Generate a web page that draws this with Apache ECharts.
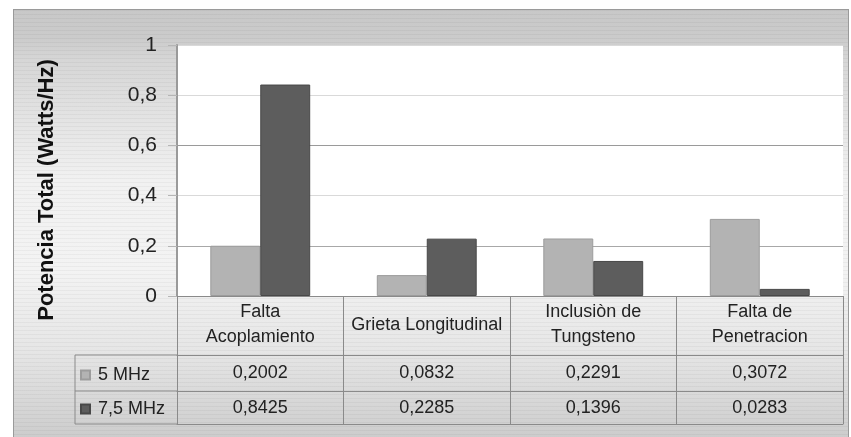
<!DOCTYPE html>
<html>
<head>
<meta charset="utf-8">
<script src="https://cdn.jsdelivr.net/npm/echarts@6/dist/echarts.min.js"></script>
<style>
  html, body { margin: 0; padding: 0; background: #fff; }
  #frame {
    position: absolute; left: 13px; top: 9px; width: 834px; height: 440px;
    border: 1px solid #9a9a9a;
    background:
      repeating-linear-gradient(to bottom, rgba(0,0,0,0.04) 0 1px, rgba(0,0,0,0) 1px 4px),
      linear-gradient(to bottom, #c8c8c8 0px, #cbcbcb 28px, #d6d6d6 50px, #f1f1f1 170px, #f3f3f3 260px, #e6e6e6 340px, #d2d2d2 410px, #c8c8c8 440px);
  }
  #chart { position: absolute; left: 0; top: 0; width: 851px; height: 437px; }
</style>
</head>
<body>
<div id="frame"></div>
<div id="chart"></div>
<script>
// datos
const categorias = ["Falta\nAcoplamiento", "Grieta Longitudinal", "Inclusiòn de\nTungsteno", "Falta de\nPenetracion"];
const serie5 = [0.2002, 0.0832, 0.2291, 0.3072];
const serie75 = [0.8425, 0.2285, 0.1396, 0.0283];
const nombres = ["5 MHz", "7,5 MHz"];
const ticksY = [0, 0.2, 0.4, 0.6, 0.8, 1];
const tituloY = "Potencia Total (Watts/Hz)";

const fmt = (v) => v.toFixed(4).replace(".", ",");
const fuente = "Liberation Sans, Arial, sans-serif";

const chart = echarts.init(document.getElementById("chart"));

// eje extra del cuadro de datos (solo linea y etiquetas)
const filaTabla = (datos, offset, margin) => ({
  type: "category",
  position: "bottom",
  offset: offset,
  data: datos,
  axisLine: { show: true, lineStyle: { color: "#8a8a8a", width: 1 } },
  axisTick: { show: false },
  axisLabel: {
    show: datos.length > 0,
    interval: 0,
    margin: margin,
    verticalAlign: "middle",
    color: "#222",
    fontFamily: fuente,
    fontSize: 18,
  },
  splitLine: { show: false },
});

const option = {
  backgroundColor: "transparent",
  animation: false,
  grid: {
    left: 177, right: 8, top: 45, bottom: 141,
    show: true, backgroundColor: "#ffffff", borderWidth: 0,
  },
  legend: {
    orient: "vertical",
    left: 80, top: 366, padding: 0,
    itemWidth: 9, itemHeight: 9, itemGap: 16,
    icon: "rect",
    data: nombres,
    textStyle: { color: "#222", fontFamily: fuente, fontSize: 18, lineHeight: 18, padding: [0, 0, 0, 3] },
  },
  xAxis: [
    {
      type: "category",
      data: categorias,
      axisLine: { lineStyle: { color: "#8a8a8a", width: 1 } },
      axisTick: { show: true, length: 128, lineStyle: { color: "#8a8a8a" } },
      axisLabel: {
        interval: 0, margin: 29, verticalAlign: "middle",
        color: "#222", fontFamily: fuente, fontSize: 18, lineHeight: 25,
      },
    },
    filaTabla(serie5.map(fmt), 59, 18),
    filaTabla(serie75.map(fmt), 95, 17),
    filaTabla([], 128, 0),
  ],
  yAxis: {
    type: "value",
    min: 0, max: 1, interval: 0.2,
    axisLine: { show: true, lineStyle: { color: "#9a9a9a", width: 2 } },
    axisTick: { show: true, length: 9, lineStyle: { color: "#b5b5b5" } },
    axisLabel: {
      margin: 20, color: "#222", fontFamily: fuente, fontSize: 21,
      formatter: (v) => (ticksY.includes(Math.round(v * 10) / 10) ? String(Math.round(v * 10) / 10).replace(".", ",") : ""),
    },
    splitLine: { show: true, lineStyle: { color: ["#8a8a8a", "#a8a8a8", "#d9d9d9", "#9a9a9a", "#d9d9d9", "#d9d9d9"], width: 1 } },
  },
  series: [
    {
      name: nombres[0],
      type: "bar",
      data: serie5,
      barGap: "0%",
      barCategoryGap: "40%",
      itemStyle: { color: "#b3b3b3", borderColor: "#9c9c9c", borderWidth: 1 },
    },
    {
      name: nombres[1],
      type: "bar",
      data: serie75,
      itemStyle: { color: "#5d5d5d", borderColor: "#484848", borderWidth: 1 },
    },
  ],
  graphic: [
    // titulo del eje vertical
    {
      type: "text", x: 47, y: 190, rotation: Math.PI / 2,
      style: {
        text: tituloY, align: "center", verticalAlign: "middle",
        fill: "#111", font: "bold 22px Liberation Sans, Arial, sans-serif",
      },
    },
    // columna de la leyenda del cuadro de datos
    { type: "line", shape: { x1: 75, y1: 355, x2: 177, y2: 355 }, style: { stroke: "#8a8a8a", lineWidth: 1 } },
    { type: "line", shape: { x1: 75, y1: 391, x2: 177, y2: 391 }, style: { stroke: "#8a8a8a", lineWidth: 1 } },
    { type: "line", shape: { x1: 75, y1: 424, x2: 177, y2: 424 }, style: { stroke: "#8a8a8a", lineWidth: 1 } },
    { type: "line", shape: { x1: 75, y1: 355, x2: 75, y2: 424 }, style: { stroke: "#8a8a8a", lineWidth: 1 } },
  ],
};

chart.setOption(option);
</script>
</body>
</html>
